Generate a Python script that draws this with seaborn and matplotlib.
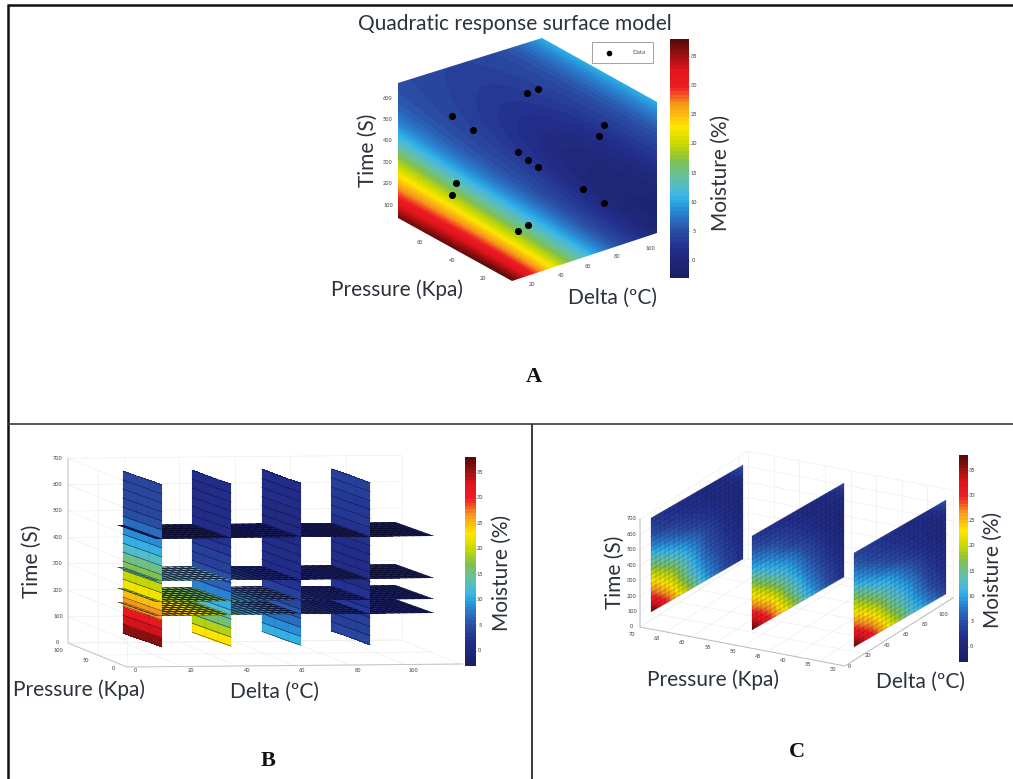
import numpy as np
import matplotlib
matplotlib.use("Agg")
import matplotlib.pyplot as plt
from matplotlib.colors import LinearSegmentedColormap
from matplotlib.patches import Polygon
from matplotlib.transforms import Affine2D
import seaborn as sns

W, H = 1013, 779
TEXT = "#2b323c"
TICK = "#6a6a6a"
GRID = "#eeeeee"
FONT = "Lato"

# ---------- colour scale ----------
cb_ticks = [0, 5, 10, 15, 20, 25, 30, 35]
vmin, vmax = -3, 38
cstops = [(-3, "#1b1f6b"), (0, "#1f2878"), (2, "#232f8e"), (5, "#2b50a5"), (8, "#2a80d0"), (10, "#2aa8e4"),
          (11.5, "#45b8e0"), (14, "#63c0a8"), (17, "#80c050"), (20, "#c8d800"), (23, "#ffe600"),
          (27, "#f7941d"), (30, "#ee1c25"), (33, "#e0141a"), (36, "#8b1010"), (38, "#5a0a0a")]
cmap = LinearSegmentedColormap.from_list(
    "moist", [((v - vmin) / (vmax - vmin), c) for v, c in cstops], N=64)

# ---------- panel A data ----------
a_u = [0, 25, 50, 75, 100]
a_t = [0, 100, 200, 300, 400, 500, 600, 700, 800, 900, 1000, 1100, 1200, 1300]
a_m = [[40, 41, 42, 42, 42],
       [32, 33, 33, 30, 28],
       [25, 25, 24, 22, 20],
       [19, 17, 16, 15, 13],
       [12, 10.5, 10, 9, 8],
       [7.5, 6, 5.5, 4.5, 4],
       [5.5, 4.5, 4, 2, 1],
       [5, 4, 2, -0.5, -1],
       [4.5, 4, 1.5, 0, -.5],
       [4.5, 4, 2.5, 1, .5],
       [4.5, 4.5, 4, 3, 3],
       [5, 5, 5, 5, 5],
       [8, 8, 8, 8, 8],
       [13, 13, 13, 13, 13]]
pts_u = [54, 49.8, 20.8, 29, 79.5, 77.6, 46.3, 50.2, 54, 71.4, 79.5, 22.4, 20.8, 50.2, 46.3]
pts_t = [1008, 960, 657, 647, 1013, 948, 662, 650, 644, 659, 648, 355, 288, 347, 293]
a_hex = [(512, 281), (398, 218), (398, 83), (542, 38), (657, 102), (657, 233)]
a_time_ticks = [600, 500, 400, 300, 200, 100]
a_press_ticks = [60, 40, 20]
a_delta_ticks = [20, 40, 60, 80, 100]

# ---------- panel B data ----------
b_slice_delta = [2, 27, 52, 77]
b_slices = [
    [4.5, 4.5, 4.5, 4.5, 5, 7, 9, 11, 13, 15, 17, 20, 22, 25, 27, 31, 33, 36],
    [2, 2, 1.5, 1.5, 1.5, 2, 2.5, 3, 3.5, 4, 5, 6, 8, 11, 13, 16, 19, 23],
    [1.5, 1.5, 1.5, 1, 1, 1, 1, 1.5, 1.5, 1.5, 2, 2.5, 3.5, 4.5, 5.5, 7, 9, 11],
    [4, 4, 3, 3, 3, 2.5, 2.5, 2, 2, 2, 2, 2, 2.5, 2.5, 3, 3.5, 4, 4.5],
]
b_levels = [115, 167, 244, 400]
b_planes = [
    [26, 25, 24, 22, 20, 18, 13, 11, 9, 7, 5, 4, 3, 2, 1, 0, -1, -1, -1, -1],
    [19, 19, 18, 17, 16, 15, 11, 9, 7, 6, 5, 3, 2, 1, 0, -1, -1, -1, -1, -1],
    [14, 14, 13, 13, 12, 11, 5, 3, 2, 1, 0, -1, -1, -1, -1, -1, -1, -1, -1, -1],
    [-3, -3, -3, -3, -3, -3, -3, -3, -3, -3, -3, -3, -3, -3, -3, -3, -3, -3, -3, -3],
]
b_time_ticks = [0, 100, 200, 300, 400, 500, 600, 700]
b_delta_ticks = [0, 20, 40, 60, 80, 100]
b_press_ticks = [100, 50, 0]

# ---------- panel C data ----------
c_d = [0, 20, 40, 60, 80, 100]
c_t = [100, 200, 300, 400, 500, 600, 700]
c_s1 = [[38, 29, 19, 10, 5, 2], [30, 23, 14, 8, 4, 1.5], [23, 18, 12, 6, 3, 1],
        [16, 12, 8.5, 5, 2, .5], [9.5, 7, 4.5, 3, 1.5, .5], [5, 3.5, 2.5, 1.5, 1, 1],
        [3, 2, 1.5, 1, 1.5, 6]]
c_s2 = [[38, 30, 21, 12, 6, 2], [31, 25, 16, 9, 4.5, 1.5], [24, 18, 12, 7, 3, 1],
        [17, 12, 9, 5, 2, .5], [10, 8, 5, 3, 1, .5], [6, 4.5, 3, 1.5, 1, 1],
        [3, 2, 1.5, 1, 1.5, 5]]
c_s3 = [[38, 31, 22, 14, 9, 4], [31, 25, 17, 11, 6, 2], [24, 19, 13, 9, 4, 1.5],
        [18, 13, 10, 6, 2.5, 1], [11, 8, 5, 3, 1.5, 1], [7, 4.5, 3, 2, 1, 1],
        [4, 3, 2, 1, 2, 6]]
c_time_ticks = [700, 600, 500, 400, 300, 200, 100, 0]
c_press_ticks = [70, 65, 60, 55, 50, 45, 40, 35, 30]
c_delta_ticks = [0, 20, 40, 60, 80, 100]

# ---------- figure ----------
sns.set_theme(style="white")
plt.rcParams["font.family"] = [FONT, "DejaVu Sans"]
fig = plt.figure(figsize=(W / 100, H / 100), dpi=100, facecolor="white")
ax = fig.add_axes([0, 0, 1, 1])
ax.axis("off")


def label(x, y, s, size=15, rot=0, color=TEXT, **kw):
    ax.text(x, y, s, fontsize=size, rotation=rot, color=color, ha="center", va="center", **kw)


def ticktext(x, y, s):
    ax.text(x, y, str(s), fontsize=4, color=TICK, ha="center", va="center", fontweight="bold")


def colorbar(x0, x1, y0, y1, labx):
    cax = fig.add_axes([x0 / W, 1 - y1 / H, (x1 - x0) / W, (y1 - y0) / H])
    levels = np.linspace(vmax, vmin, 64)[:, None]
    sns.heatmap(levels, ax=cax, cmap=cmap, vmin=vmin, vmax=vmax, cbar=False,
                xticklabels=False, yticklabels=False)
    cax.set_xticks([])
    rows = [(vmax - v) / (vmax - vmin) * 64 for v in cb_ticks]
    cax.set_yticks(rows)
    cax.set_yticklabels([])
    cax.yaxis.tick_right()
    cax.tick_params(axis="y", length=1.5, width=.4, direction="in", color="#333333")
    for v, r in zip(cb_ticks, rows):
        ticktext(labx, y0 + r / 64 * (y1 - y0), v)


def frame_line(xs, ys, color="#111111", lw=1.6):
    ax.plot(xs, ys, color=color, lw=lw, solid_capstyle="butt", zorder=9)


def quad(tf, x0, x1, y0, y1):
    return Polygon([(x0, y0), (x1, y0), (x1, y1), (x0, y1)], closed=True, transform=tf)


def mesh_lines(tf, xs, ys, lw_x, lw_y, alpha_x, alpha_y, zorder, clip=None, color="#0b0b24"):
    out = []
    for x in xs:
        out += ax.plot([x, x], [ys[0], ys[-1]], color=color, lw=lw_x, alpha=alpha_x, zorder=zorder, transform=tf)
    for y in ys:
        out += ax.plot([xs[0], xs[-1]], [y, y], color=color, lw=lw_y, alpha=alpha_y, zorder=zorder, transform=tf)
    if clip is not None:
        for ln in out:
            ln.set_clip_path(clip)


# ---------- panel A ----------
tf_a = Affine2D.from_values(2.59, 1.4504, 0, -.2142, 398, 226.5)
du, dt = a_u[1] - a_u[0], a_t[1] - a_t[0]
im = ax.imshow(np.array(a_m), origin="lower", aspect="auto", cmap=cmap, vmin=vmin, vmax=vmax,
               interpolation="bicubic",
               extent=(a_u[0] - du / 2, a_u[-1] + du / 2, a_t[0] - dt / 2, a_t[-1] + dt / 2),
               transform=tf_a + ax.transData)
im.set_clip_path(Polygon(a_hex, closed=True, transform=ax.transData))
sns.scatterplot(x=pts_u, y=pts_t, ax=ax, color="black", s=26, linewidth=0, zorder=5,
                transform=tf_a + ax.transData, label="Data")
leg = ax.legend(loc="center", bbox_to_anchor=(622.5, 52.5), bbox_transform=ax.transData,
                fontsize=4.5, frameon=True, fancybox=False, edgecolor="#777777",
                borderpad=1.2, handlelength=3.0, handletextpad=2.2, labelcolor="#555555", markerscale=.8)
leg.get_frame().set_linewidth(.6)
for i, v in enumerate(a_time_ticks):
    ticktext(388, 98 + i * 21.4, v)
for (x, y), v in zip([(420, 242), (452, 260), (483, 278)], a_press_ticks):
    ticktext(x, y, v)
for (x, y), v in zip([(532, 284), (561, 275), (588, 266), (617, 257), (650, 248)], a_delta_ticks):
    ticktext(x, y, v)
colorbar(670, 689, 39, 278, 694)
label(515, 23.5, "Quadratic response surface model")
label(368, 150, "Time (S)", rot=90)
label(397, 290, "Pressure (Kpa)")
label(612, 298, "Delta (ºC)")
label(721, 173, "Moisture (%)", rot=90)
label(534, 377, "A", size=16, family="Liberation Serif", fontweight="bold", color="#111111")

# ---------- panel B ----------
floor_b = Affine2D.from_values(2.78, -.025, -.59, -.24, 127, 667)
back_b = Affine2D.from_values(2.78, -.025, 0, -.264, 68, 643)
side_b = Affine2D.from_values(-.59, -.24, 0, -.264, 127, 667)
for d in [0, 20, 40, 60, 80, 100, 120]:
    ax.plot([d, d], [0, 100], color=GRID, lw=.5, zorder=.5, transform=floor_b + ax.transData)
    ax.plot([d, d], [0, 700], color=GRID, lw=.5, zorder=.5, transform=back_b + ax.transData)
for p in [0, 50, 100]:
    ax.plot([0, 120], [p, p], color=GRID, lw=.5, zorder=.5, transform=floor_b + ax.transData)
    ax.plot([p, p], [0, 700], color=GRID, lw=.5, zorder=.5, transform=side_b + ax.transData)
for t in b_time_ticks:
    ax.plot([0, 120], [t, t], color=GRID, lw=.5, zorder=.5, transform=back_b + ax.transData)
    ax.plot([0, 100], [t, t], color=GRID, lw=.5, zorder=.5, transform=side_b + ax.transData)
    ticktext(58, 643 - .264 * t, t)
for d in b_delta_ticks:
    ticktext(136 + 2.77 * d, 671, d)
for (x, y), v in zip([(58, 650), (86, 660), (114, 669)], b_press_ticks):
    ticktext(x, y, v)
ax.plot([68, 68, 127, 463], [458, 643, 667, 664], color="#c4c4c4", lw=.7, zorder=.6)


def wall_b(d):
    return Affine2D.from_values(-.45, -.16, 0, -.27, 117 + 2.78 * d + 45, 633 - .03 * d + 16)


def plane_b(t):
    return Affine2D.from_values(2.78, -.03, -.45, -.16, 117 + 45, 633 - .27 * t + 16)


seg = [0] + b_slice_delta + [100]
plane_edges_d = np.linspace(0, 100, 41)
plane_edges_p = np.linspace(12.5, 100, 8)
wall_edges_p = np.linspace(12.5, 100, 4)
wall_edges_t = np.linspace(0, 600, 19)
order = 3.0
for i in range(len(seg) - 2, -1, -1):
    for t, vals in zip(b_levels, b_planes):
        tf = plane_b(t) + ax.transData
        z = np.tile(np.repeat(vals, 2), (7, 1))
        clip = quad(tf, seg[i], seg[i + 1], 12.5, 100)
        m = ax.pcolormesh(plane_edges_d, plane_edges_p, z, cmap=cmap, vmin=vmin, vmax=vmax,
                          linewidth=0, transform=tf, zorder=order)
        m.set_clip_path(clip)
        mesh_lines(tf, plane_edges_d, plane_edges_p, .6, .6, .9, .9, order + .01, clip=clip)
        order += .1
    if i > 0:
        d = seg[i]
        z = np.tile(np.array(b_slices[i - 1])[::-1, None], (1, 3))
        tf = wall_b(d) + ax.transData
        ax.pcolormesh(wall_edges_p, wall_edges_t, z, cmap=cmap, vmin=vmin, vmax=vmax,
                      linewidth=0, transform=tf, zorder=order)
        mesh_lines(tf, wall_edges_p, wall_edges_t, .3, .4, .18, .75, order + .01)
        order += .1
colorbar(465, 476, 457, 666, 480)
label(32, 561, "Time (S)", rot=90)
label(79, 690, "Pressure (Kpa)")
label(274, 692, "Delta (ºC)")
label(502, 573, "Moisture (%)", rot=90)
label(268, 761, "B", size=16, family="Liberation Serif", fontweight="bold", color="#111111")

# ---------- panel C ----------
floor_c = Affine2D.from_values(-5.125, -.975, .98, -.62, 845 + 5.125 * 30, 666 + .975 * 30)
back2_c = Affine2D.from_values(-5.125, -.975, 0, -.154, 953 + 5.125 * 30, 598 + .975 * 30)
back3_c = Affine2D.from_values(.98, -.62, 0, -.154, 640, 627)
for d in [0, 20, 40, 60, 80, 100, 110]:
    ax.plot([30, 70], [d, d], color=GRID, lw=.5, zorder=.5, transform=floor_c + ax.transData)
    ax.plot([d, d], [0, 700], color=GRID, lw=.5, zorder=.5, transform=back3_c + ax.transData)
for p in c_press_ticks:
    ax.plot([p, p], [0, 110], color=GRID, lw=.5, zorder=.5, transform=floor_c + ax.transData)
    ax.plot([p, p], [0, 700], color=GRID, lw=.5, zorder=.5, transform=back2_c + ax.transData)
for t in c_time_ticks:
    ax.plot([0, 110], [t, t], color=GRID, lw=.5, zorder=.5, transform=back3_c + ax.transData)
    ax.plot([30, 70], [t, t], color=GRID, lw=.5, zorder=.5, transform=back2_c + ax.transData)
for i, t in enumerate(c_time_ticks):
    ticktext(632, 519 + i * 15.4, t)
for i, p in enumerate(c_press_ticks):
    ticktext(632 + i * 25.2, 634 + i * 4.4, p)
for i, d in enumerate(c_delta_ticks):
    ticktext(849 + i * 18.9, 666 - i * 10.4, d)
ax.plot([640, 640, 845, 953], [519, 627, 666, 598], color="#bdbdbd", lw=.7, zorder=.6)

for (x0, y0), vals in zip([(651, 612), (752, 630), (854, 647)], [c_s1, c_s2, c_s3]):
    tf = Affine2D.from_values(.92, -.53, 0, -.1567, x0, y0 + 100 * .1567) + ax.transData
    step_d, step_t = c_d[1] - c_d[0], c_t[1] - c_t[0]
    im = ax.imshow(np.array(vals), origin="lower", aspect="auto", cmap=cmap, vmin=vmin, vmax=vmax,
                   interpolation="bilinear",
                   extent=(c_d[0] - step_d / 2, c_d[-1] + step_d / 2,
                           c_t[0] - step_t / 2, c_t[-1] + step_t / 2),
                   transform=tf, zorder=1)
    im.set_clip_path(quad(tf, 0, 100, 100, 700))
    mesh_lines(tf, np.linspace(0, 100, 21), np.linspace(100, 700, 21), .3, .3, .4, .4, 2, color="#101030")
colorbar(959, 968, 455, 662, 972)
label(615, 572, "Time (S)", rot=90)
label(713, 680, "Pressure (Kpa)")
label(920, 682, "Delta (ºC)")
label(993, 570, "Moisture (%)", rot=90)
label(797, 752, "C", size=16, family="Liberation Serif", fontweight="bold", color="#111111")

# ---------- panel frame ----------
frame_line([8, 1013], [5, 5], lw=1.8)
frame_line([8, 8], [4, 779], lw=1.8)
frame_line([8, 1013], [424, 424], color="#3a3a3a", lw=1.2)
frame_line([531.5, 531.5], [424, 779], color="#3a3a3a", lw=1.4)

ax.set_xlim(0, W)
ax.set_ylim(H, 0)
fig.savefig("out.png", dpi=100)
